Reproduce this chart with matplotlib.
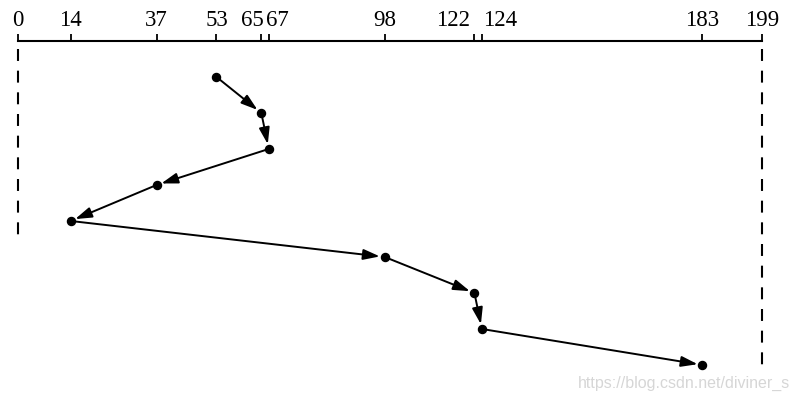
import matplotlib
matplotlib.use("Agg")
import matplotlib.pyplot as plt
from matplotlib.transforms import ScaledTranslation

# Data: SSTF disk-scheduling service order
track_ticks = [0, 14, 37, 53, 65, 67, 98, 122, 124, 183, 199]
service_order = [53, 65, 67, 37, 14, 98, 122, 124, 183]
step = list(range(len(service_order)))
watermark = "https://blog.csdn.net/diviner_s"

plt.rcParams['lines.scale_dashes'] = False
W, H = 801, 402
fig = plt.figure(figsize=(W / 100, H / 100), dpi=100)
ax = fig.add_axes([18.3 / W, 0, (762.3 - 18.3) / W, (H - 42.3) / H])
ax.set_xlim(0, 199)
ax.set_ylim(9.0, -0.99)
ax.patch.set_alpha(0)

for s in ['left', 'right', 'bottom']:
    ax.spines[s].set_visible(False)
ax.spines['top'].set_linewidth(1.5)
ax.xaxis.tick_top()
ax.set_xticks(track_ticks)
ax.set_xticklabels([str(t) for t in track_ticks], family='Liberation Serif')
ax.tick_params(axis='x', direction='out', length=5.2, width=1.3,
               pad=3.0, labelsize=16.5)
ax.set_yticks([])

# nudge crowded labels apart (alignment, offset in points)
nudges = {65: ('right', 2), 67: ('left', -2), 122: ('right', -3), 124: ('left', 1)}
for lab in ax.get_xticklabels():
    t = int(lab.get_text())
    if t in nudges:
        ha, dx = nudges[t]
        lab.set_ha(ha)
        lab.set_transform(lab.get_transform() +
                          ScaledTranslation(dx / 72, 0, fig.dpi_scale_trans))

# dashed boundary lines
ax.plot([0, 0], [-0.78, 4.6], color='black', lw=1.5, dashes=(8.6, 7.0),
        clip_on=False)
ax.plot([199, 199], [-0.78, 8.2], color='black', lw=1.5, dashes=(8.6, 7.0),
        clip_on=False)

# arrows between successive requests
for i in range(len(service_order) - 1):
    ax.annotate('', xy=(service_order[i + 1], step[i + 1]),
                xytext=(service_order[i], step[i]),
                arrowprops=dict(arrowstyle='-|>,head_length=1.0,head_width=0.32',
                                lw=1.4, color='black', shrinkA=0, shrinkB=3.5,
                                mutation_scale=10),
                annotation_clip=False)

ax.plot(service_order, step, 'o', ms=5.8, color='black', clip_on=False, zorder=3)

fig.text(790 / W, 1 - 383 / H, watermark, ha='right', va='center',
         color='#d6d6d6', fontsize=11.5, family='Liberation Sans')

fig.savefig('out.png', dpi=100)
